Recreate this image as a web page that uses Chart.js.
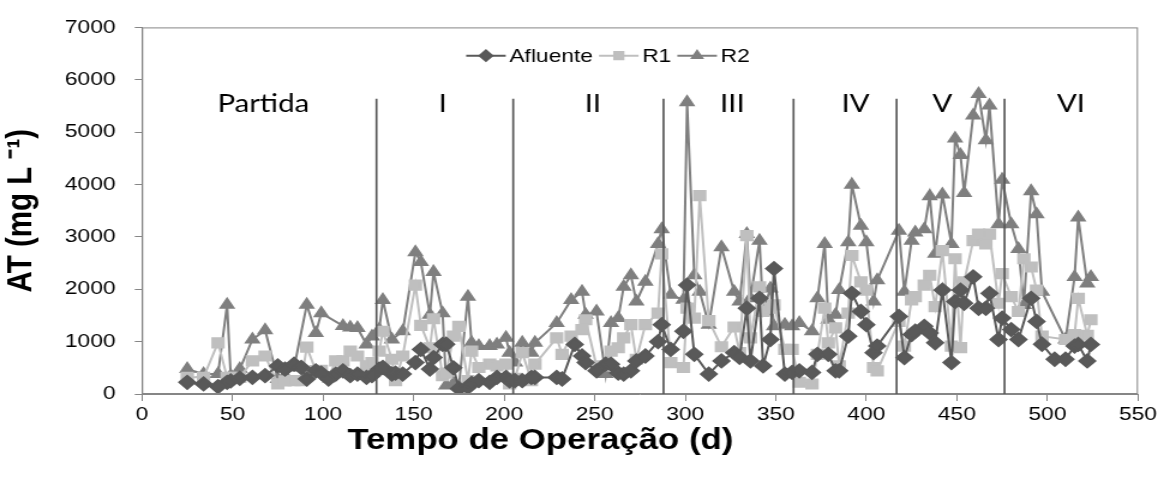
<!DOCTYPE html>
<html>
<head>
<meta charset="utf-8">
<script src="https://cdn.jsdelivr.net/npm/chart.js@4.4.0/dist/chart.umd.min.js"></script>
<style>
  body { margin: 0; background: #fff; overflow: hidden; }
  /* figura esticada na horizontal */
  #grafico { transform: scaleX(1.2); transform-origin: 0 0; }
</style>
</head>
<body>
<canvas id="grafico" width="970" height="479"></canvas>
<script>
// dias de operação com coleta
const dias = [25, 34, 42, 47, 49, 54, 61, 68, 75, 79,
  84, 88, 91, 96, 99, 103, 107, 111, 115, 119,
  124, 127, 131, 133, 138, 140, 144, 151, 154, 159,
  161, 166, 168, 172, 175, 180, 182, 186, 192, 196,
  201, 203, 206, 210, 215, 217, 229, 232, 237, 239,
  243, 245, 251, 256, 259, 263, 266, 270, 273, 278,
  285, 287, 292, 299, 301, 305, 308, 313, 320, 327,
  330, 334, 336, 341, 343, 347, 349, 355, 359, 363,
  370, 373, 377, 379, 383, 385, 390, 392, 397, 400,
  404, 406, 418, 421, 425, 427, 432, 435, 438, 442,
  447, 449, 452, 454, 459, 462, 466, 468, 473, 475,
  480, 484, 487, 491, 494, 497, 504, 510, 515, 517,
  522, 524];

// alcalinidade total (mg/L)
const afluente = [223, 192, 141, 223, 250, 300, 318, 350, 537, 475,
  569, 506, 286, 443, 400, 286, 381, 443, 350, 381,
  318, 350, 475, 506, 381, 400, 381, 600, 852, 475,
  695, 946, 950, 500, 100, 129, 200, 255, 223, 317,
  317, 250, 254, 254, 317, 317, 317, 286, null, 946,
  726, 600, 443, 569, 569, 400, 380, 443, 632, 726,
  1000, 1324, 852, 1198, 2079, 758, null, 380, 632, 789,
  700, 1638, 632, 1827, 537, 1041, 2394, 380, 412, 443,
  412, 758, null, 758, 443, 443, 1104, 1922, 1575, 1324,
  789, 915, 1481, 695, 1135, 1200, 1292, 1167, 978, 1984,
  600, 1764, 1984, 1733, 2237, 1638, 1638, 1922, 1041, 1449,
  1230, 1041, null, 1827, 1386, 950, 663, 663, 915, 946,
  632, 946];

const r1 = [318, 318, 978, 318, 320, 318, 632, 726, 192, 250,
  255, 255, 896, 445, 450, 318, 632, 632, 820, 726,
  537, 600, 820, 1198, 663, 255, 726, 2079, 1311, 883,
  1437, 349, 400, 1104, 1292, 255, 820, 506, 569, 538,
  569, 191, 300, 789, 255, 569, 1072, 757, 1104, null,
  1229, 1418, 537, 537, 820, 883, 1072, 1324, 663, 1324,
  1544, 2676, 600, 506, 1638, 1449, 3789, 1400, 902, 1279,
  789, 3023, 1072, 2047, 1575, 1638, 1700, 852, 852, 224,
  191, 758, 1638, 978, 1261, 538, 1544, 2645, 2142, 1984,
  506, 443, 1387, 915, 1795, 1858, 2079, 2268, 1670, 2739,
  915, 2582, 884, 2142, 2929, 3054, 2866, 3054, 1733, 2300,
  1858, 1575, 2582, 2425, 1984, 1104, null, 1041, 1135, 1827,
  1122, 1418];

const r2 = [475, 381, 381, 1702, 350, 475, 1041, 1218, 286, 350,
  506, null, 1702, 1167, 1544, null, null, 1300, 1270, 1261,
  946, 1100, 1230, 1796, 1041, null, 1198, 2708, 2519, 1513,
  2330, 1544, 160, 200, 150, 1858, 978, 915, 915, 946,
  1072, 789, 600, 978, 789, 978, 1355, null, 1795, null,
  1953, 1512, 1575, 380, 1355, 1449, 2047, 2268, 1764, 2142,
  2865, 3148, 1893, 1799, 5570, 2267, 1953, 1324, 2802, 1953,
  1764, 3054, 1827, 2928, 1575, 2016, 1292, 1324, 1292, 1355,
  1198, 1827, 2865, 1418, 1512, 1984, 2897, 3997, 3211, 2897,
  1764, 2173, 3117, 1953, 2928, 3085, 3148, 3777, 2676, 3808,
  2865, 4878, 4563, 3840, 5318, 5727, 4846, 5507, 3242, 4091,
  3242, 2771, 1700, 3871, 3431, 1953, null, 1041, 2236, 3368,
  2110, 2236];

// fases de operação
const fases = ['Partida', 'I', 'II', 'III', 'IV', 'V', 'VI'];
const centroFases = [67, 166, 249, 326, 394, 442, 513];
const limitesFases = [129.5, 205, 288, 359.8, 416.7, 476.3];

const fonte = 'Liberation Sans, Arial, sans-serif';

function serie(nome, valores, cor, estilo, raio) {
  return {
    label: nome,
    data: dias.map((d, i) => ({ x: d, y: valores[i] })),
    borderColor: cor,
    backgroundColor: cor,
    pointBackgroundColor: cor,
    pointBorderColor: cor,
    pointStyle: estilo,
    pointRadius: raio,
    borderWidth: 2,
    tension: 0,
    spanGaps: true
  };
}

const fasesPlugin = {
  id: 'fases',
  afterDatasetsDraw(chart) {
    const { ctx, chartArea, scales: { x, y } } = chart;
    ctx.save();

    // moldura da área do gráfico
    ctx.strokeStyle = '#868686';
    ctx.lineWidth = 1;
    ctx.strokeRect(chartArea.left + 0.5, chartArea.top + 0.5, chartArea.width - 1, chartArea.height - 1);

    // divisões entre as fases
    ctx.strokeStyle = '#595959';
    ctx.lineWidth = 1.7;
    limitesFases.forEach(d => {
      const px = x.getPixelForValue(d);
      ctx.beginPath();
      ctx.moveTo(px, y.getPixelForValue(5640));
      ctx.lineTo(px, y.getPixelForValue(0));
      ctx.stroke();
    });

    ctx.fillStyle = '#000';
    ctx.font = '24.5px Lato, sans-serif';
    ctx.textAlign = 'center';
    ctx.textBaseline = 'middle';
    fases.forEach((f, i) => {
      ctx.fillText(f, x.getPixelForValue(centroFases[i]), y.getPixelForValue(5540));
    });

    // título do eixo x
    ctx.font = 'bold 29px ' + fonte;
    ctx.fillText('Tempo de Operação (d)', x.getPixelForValue(220), 441);

    // legenda com linha e marcador
    ctx.font = '19px ' + fonte;
    ctx.textAlign = 'left';
    let lx = x.getPixelForValue(179);
    const ly = y.getPixelForValue(6460);
    chart.data.datasets.forEach(ds => {
      ctx.strokeStyle = ds.borderColor;
      ctx.fillStyle = ds.pointBackgroundColor;
      ctx.lineWidth = 2;
      ctx.beginPath();
      ctx.moveTo(lx, ly);
      ctx.lineTo(lx + 33, ly);
      ctx.stroke();
      Chart.helpers.drawPoint(ctx, { pointStyle: ds.pointStyle, radius: ds.pointRadius * 0.8, borderWidth: 1 }, lx + 16.5, ly);
      ctx.fillStyle = '#000';
      ctx.fillText(ds.label, lx + 36, ly + 1);
      lx += 36 + ctx.measureText(ds.label).width + 5;
    });

    ctx.restore();
  }
};

new Chart(document.getElementById('grafico'), {
  type: 'line',
  data: {
    datasets: [
      serie('Afluente', afluente, '#595959', 'rectRot', 6.5),
      serie('R1', r1, '#BFBFBF', 'rect', 6.5),
      serie('R2', r2, '#7F7F7F', 'triangle', 6)
    ]
  },
  options: {
    responsive: false,
    animation: false,
    layout: { padding: { top: 23, right: 21.7, left: 0, bottom: 0 } },
    plugins: {
      legend: { display: false },
      tooltip: { enabled: false }
    },
    scales: {
      x: {
        type: 'linear',
        min: 0,
        max: 550,
        ticks: { stepSize: 50, color: '#000', font: { size: 19, family: fonte }, padding: 2, maxRotation: 0, callback: v => String(v) },
        grid: { drawOnChartArea: false, tickLength: 7, color: '#868686' },
        border: { color: '#868686' },
        afterFit: s => { s.height = 85; }
      },
      y: {
        min: 0,
        max: 7000,
        ticks: { stepSize: 1000, color: '#000', font: { size: 19, family: fonte }, padding: 16, callback: v => String(v) },
        grid: { drawOnChartArea: false, tickLength: 6, color: '#868686' },
        border: { color: '#868686' },
        title: {
          display: true,
          text: 'AT (mg L ⁻¹)',
          color: '#000',
          font: { size: 29.5, weight: 'bold', family: fonte },
          padding: { top: 0, bottom: 0 }
        },
        afterFit: s => { s.width = 118.3; }
      }
    }
  },
  plugins: [fasesPlugin]
});
</script>
</body>
</html>
